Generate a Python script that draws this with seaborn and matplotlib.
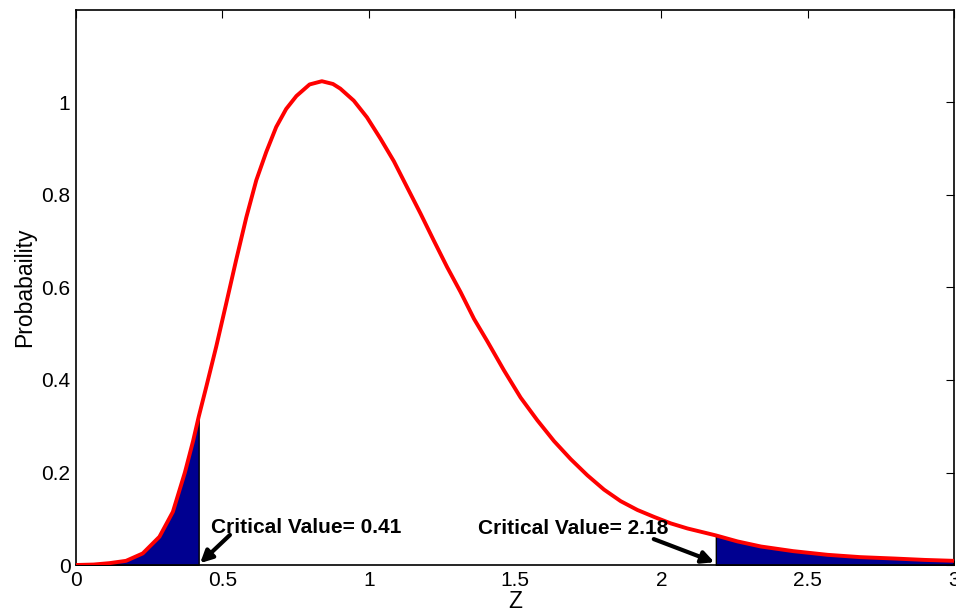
import numpy as np
import pandas as pd
import matplotlib
matplotlib.use("Agg")
import matplotlib.pyplot as plt
import seaborn as sns

# ---- data ----
z_values = [0.0, 0.06, 0.114, 0.171, 0.228, 0.285, 0.331, 0.372, 0.40, 0.419,
            0.445, 0.479, 0.513, 0.547, 0.582, 0.616, 0.650, 0.684, 0.718, 0.753,
            0.798, 0.840, 0.878, 0.903, 0.949, 0.994, 1.040, 1.086, 1.131, 1.177,
            1.222, 1.268, 1.314, 1.360, 1.405, 1.462, 1.519, 1.576, 1.633, 1.690,
            1.747, 1.804, 1.861, 1.918, 1.975, 2.032, 2.089, 2.186, 2.26, 2.34,
            2.45, 2.568, 2.68, 2.796, 2.90, 3.0]
prob_values = [0.0, 0.001, 0.004, 0.009, 0.025, 0.061, 0.115, 0.200, 0.268, 0.320,
               0.385, 0.472, 0.565, 0.659, 0.752, 0.832, 0.893, 0.947, 0.986, 1.014,
               1.039, 1.046, 1.040, 1.030, 1.004, 0.968, 0.922, 0.873, 0.817, 0.760,
               0.702, 0.644, 0.590, 0.532, 0.484, 0.421, 0.362, 0.313, 0.268, 0.229,
               0.194, 0.163, 0.138, 0.119, 0.104, 0.090, 0.079, 0.064, 0.051, 0.040,
               0.030, 0.022, 0.017, 0.014, 0.011, 0.009]
crit_low = 0.419
crit_high = 2.186
crit_labels = ["Critical Value= 0.41", "Critical Value= 2.18"]
x_ticks = [0, 0.5, 1, 1.5, 2, 2.5, 3]
x_tick_labels = ["0", "0.5", "1", "1.5", "2", "2.5", "3"]
y_ticks = [0, 0.2, 0.4, 0.6, 0.8, 1.0]
y_tick_labels = ["0", "0.2", "0.4", "0.6", "0.8", "1"]

df = pd.DataFrame({"Z": z_values, "P": prob_values})

sns.set_style("white")
plt.rcParams["font.family"] = ["Liberation Sans", "DejaVu Sans"]
plt.rcParams["text.color"] = "black"
plt.rcParams["axes.labelcolor"] = "black"
plt.rcParams["xtick.color"] = "black"
plt.rcParams["ytick.color"] = "black"

fig = plt.figure(figsize=(9.56, 6.13), dpi=100)
ax = fig.add_axes([0.0795, 0.0783, 0.9185, 0.9054])

navy = "#000090"
low = df[df.Z <= crit_low]
high = df[df.Z >= crit_high]
ax.fill_between(low.Z, low.P, 0, facecolor=navy, edgecolor="black", linewidth=1.0, zorder=2)
ax.fill_between(high.Z, high.P, 0, facecolor=navy, edgecolor="black", linewidth=1.0, zorder=2)

sns.lineplot(data=df, x="Z", y="P", ax=ax, color="red", linewidth=2.8, zorder=3,
             sort=False, estimator=None)

ax.set_xlim(0, 3)
ax.set_ylim(0, 1.2)
ax.set_xticks(x_ticks)
ax.set_xticklabels(x_tick_labels)
ax.set_yticks(y_ticks)
ax.set_yticklabels(y_tick_labels)
ax.tick_params(direction="in", length=6, width=0.8, top=True, right=True,
               labelsize=15, colors="black", pad=4)
for s in ax.spines.values():
    s.set_visible(True)
    s.set_color("black")
    s.set_linewidth(1.2)

ax.set_xlabel("Z", fontsize=16.5, labelpad=0)
ax.set_ylabel("Probabaility", fontsize=16.5, labelpad=4)

arrow = dict(arrowstyle="-|>", color="black", lw=3, mutation_scale=18, shrinkA=0, shrinkB=0)
ax.text(0.462, 0.082, crit_labels[0], fontsize=15, fontweight="bold",
        va="center", ha="left", zorder=5)
ax.annotate("", xy=(crit_low + 0.005, 0.004), xytext=(0.526, 0.065),
            arrowprops=arrow, zorder=5)
ax.text(1.372, 0.080, crit_labels[1], fontsize=15, fontweight="bold",
        va="center", ha="left", zorder=5)
ax.annotate("", xy=(crit_high - 0.005, 0.006), xytext=(1.974, 0.056),
            arrowprops=arrow, zorder=5)

fig.savefig("out.png", dpi=100)
